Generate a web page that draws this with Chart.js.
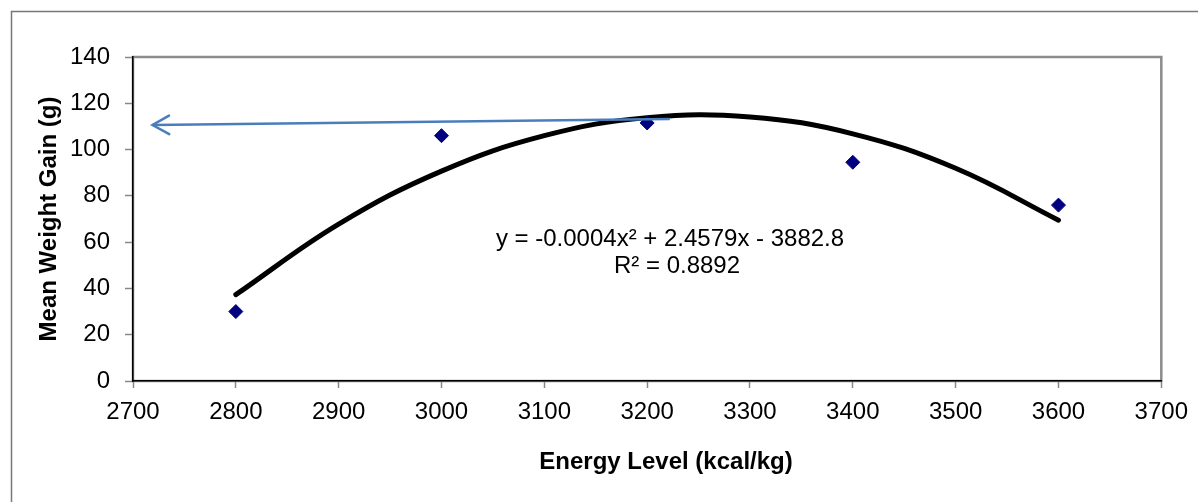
<!DOCTYPE html>
<html>
<head>
<meta charset="utf-8">
<script src="https://cdn.jsdelivr.net/npm/chart.js@4.4.1/dist/chart.umd.min.js"></script>
<style>
  html, body { margin: 0; padding: 0; background: #fff; overflow: hidden; }
  #wrap { width: 1198px; height: 502px; position: relative; }
</style>
</head>
<body>
<div id="wrap"><canvas id="myChart"></canvas></div>
<script>
// measured points
var energyLevels = [2800, 3000, 3200, 3400, 3600];
var weightGain = [30, 106, 111.5, 94.5, 76];

// polynomial trendline
var trendX = [2800, 2900, 3000, 3100, 3200, 3300, 3400, 3500, 3600];
var trendY = [37.3, 67.8, 90.7, 106, 113.8, 114.1, 106.8, 91.9, 69.5];

// blue arrow: tail, then tip
var arrowX = [3222, 2719];
var arrowY = [113.2, 110.6];

// tick labels
var xTicks = [2700, 2800, 2900, 3000, 3100, 3200, 3300, 3400, 3500, 3600, 3700];
var yTicks = [0, 20, 40, 60, 80, 100, 120, 140];

var equationLines = ['y = -0.0004x\u00B2 + 2.4579x - 3882.8', 'R\u00B2 = 0.8892'];
var xTitle = 'Energy Level (kcal/kg)';
var yTitle = 'Mean Weight Gain (g)';

function toPoints(xs, ys) {
    return xs.map(function(x, i) { return {x: x, y: ys[i]}; });
}

Chart.defaults.font.family = '"Liberation Sans", Arial, sans-serif';
Chart.defaults.font.size = 24;
Chart.defaults.color = '#000';

// frames, arrowhead, equation and x title
var extras = {
    id: 'extras',
    beforeDraw: function(chart) {
        var ctx = chart.ctx, a = chart.chartArea;
        ctx.save();
        ctx.strokeStyle = '#777';
        ctx.lineWidth = 1.5;
        ctx.beginPath();
        ctx.moveTo(11.5, chart.height);
        ctx.lineTo(11.5, 11.5);
        ctx.lineTo(chart.width, 11.5);
        ctx.stroke();
        ctx.strokeStyle = '#8c8c8c';
        ctx.lineWidth = 2.5;
        ctx.strokeRect(a.left, a.top, a.right - a.left, a.bottom - a.top);
        ctx.restore();
    },
    afterDatasetsDraw: function(chart) {
        var ctx = chart.ctx, a = chart.chartArea;
        var pts = chart.getDatasetMeta(2).data;
        var tail = pts[0], tip = pts[1];
        var ang = Math.atan2(tail.y - tip.y, tail.x - tip.x);
        var len = 19, spread = 0.51;
        ctx.save();
        ctx.strokeStyle = '#4a7ebb';
        ctx.lineWidth = 2.5;
        ctx.lineCap = 'round';
        ctx.beginPath();
        ctx.moveTo(tip.x + len * Math.cos(ang - spread), tip.y + len * Math.sin(ang - spread));
        ctx.lineTo(tip.x, tip.y);
        ctx.lineTo(tip.x + len * Math.cos(ang + spread), tip.y + len * Math.sin(ang + spread));
        ctx.stroke();

        ctx.fillStyle = '#000';
        ctx.textAlign = 'center';
        ctx.textBaseline = 'middle';
        ctx.font = '24px "Liberation Sans", Arial, sans-serif';
        ctx.fillText(equationLines[0], a.left + 537, a.top + 182);
        ctx.fillText(equationLines[1], a.left + 544, a.top + 209);

        ctx.font = 'bold 24px "Liberation Sans", Arial, sans-serif';
        ctx.fillText(xTitle, a.left + 533, chart.height - 40);
        ctx.restore();
    }
};

function plainNumber(value) {
    return String(value);
}

var ctx = document.getElementById('myChart').getContext('2d');
var chart = new Chart(ctx, {
    type: 'scatter',
    data: {
        datasets: [{
            label: 'Trend',
            type: 'line',
            data: toPoints(trendX, trendY),
            borderColor: '#000',
            borderWidth: 5,
            borderCapStyle: 'round',
            tension: 0.4,
            pointRadius: 0,
            fill: false,
            order: 2
        }, {
            label: 'Mean weight gain',
            data: toPoints(energyLevels, weightGain),
            pointStyle: 'rectRot',
            pointRadius: 7,
            backgroundColor: '#000080',
            borderColor: '#000080',
            borderWidth: 1,
            order: 1
        }, {
            label: 'Arrow',
            type: 'line',
            data: toPoints(arrowX, arrowY),
            borderColor: '#4a7ebb',
            borderWidth: 2.5,
            pointRadius: 0,
            tension: 0,
            fill: false,
            order: 0
        }]
    },
    options: {
        responsive: true,
        maintainAspectRatio: false,
        animation: false,
        layout: { padding: { left: 0, top: 57, right: 30, bottom: 0 } },
        plugins: {
            legend: { display: false },
            tooltip: { enabled: false }
        },
        scales: {
            x: {
                type: 'linear',
                min: xTicks[0],
                max: xTicks[xTicks.length - 1],
                afterBuildTicks: function(scale) {
                    scale.ticks = xTicks.map(function(v) { return {value: v}; });
                },
                afterFit: function(scale) { scale.height = 121; },
                grid: { drawOnChartArea: false, color: '#888', tickLength: 7, tickWidth: 1.5 },
                border: { color: '#000', width: 1.5 },
                ticks: { padding: 10, maxRotation: 0, autoSkip: false, callback: plainNumber }
            },
            y: {
                min: yTicks[0],
                max: yTicks[yTicks.length - 1],
                afterBuildTicks: function(scale) {
                    scale.ticks = yTicks.map(function(v) { return {value: v}; });
                },
                afterFit: function(scale) { scale.width = 133; },
                grid: { drawOnChartArea: false, color: '#888', tickLength: 8, tickWidth: 1.5 },
                border: { color: '#000', width: 1.5 },
                ticks: { padding: 15, callback: plainNumber },
                title: {
                    display: true,
                    text: yTitle,
                    font: { size: 24, weight: 'bold' },
                    padding: { top: 35, bottom: 0 }
                }
            }
        }
    },
    plugins: [extras]
});
</script>
</body>
</html>
